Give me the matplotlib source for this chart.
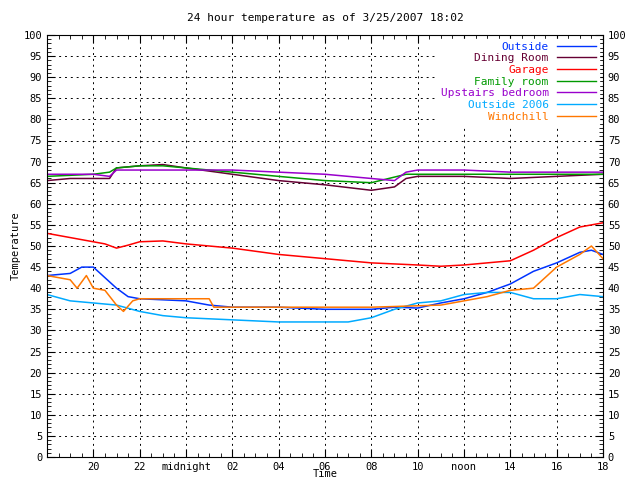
import matplotlib
matplotlib.use("Agg")
import matplotlib.pyplot as plt
from matplotlib.ticker import MultipleLocator

plt.rcParams['font.family'] = 'DejaVu Sans Mono'
plt.rcParams['font.size'] = 7.5

out_h = [0,1,1.5,2,3,3.5,4,6,7,8,10,12,14,15,16,17,18,19,20,21,22,23,23.5,24]
out_v = [43,43.5,45,45,40,38,37.5,37,36,35.5,35.5,35,35,35.5,35.3,36.5,37.5,39,41,44,46,48.5,49,48]
wc_h = [0,1,1.3,1.7,2,2.5,3,3.3,3.7,4,5,7,7.2,10,14,17,18,19,20,21,22,23,23.5,24]
wc_v = [43,42,40,43,40,39.5,36,34.5,37,37.5,37.5,37.5,35.5,35.5,35.5,36,37,38,39.5,40,45,48,50,47]
o6_h = [0,1,2,3,4,5,6,8,10,12,13,14,15,16,17,18,19,20,21,22,23,24]
o6_v = [38.5,37,36.5,36,34.5,33.5,33,32.5,32,32,32,33,35,36.5,37,38.5,39,39,37.5,37.5,38.5,38]
ga_h = [0,1,2,2.5,3,3.5,4,5,6,7,8,10,12,14,16,17,18,19,20,21,22,23,24]
ga_v = [53,52,51,50.5,49.5,50.2,51,51.2,50.5,50,49.5,48,47,46,45.5,45.2,45.5,46,46.5,49,52,54.5,55.5]
dr_h = [0,1,2,2.7,3,4,5,6,8,10,12,14,15,15.5,16,18,20,22,24]
dr_v = [65.5,66,66,66,68.5,69,69.3,68.5,67,65.5,64.5,63.2,64,66,66.5,66.5,66,66.5,67]
fr_h = [0,2,2.7,3,4,5,6,8,10,12,14,15.5,16,20,24]
fr_v = [66.5,67,67.5,68.5,69,69,68.5,67.5,66.5,65.5,65,67,67,67,67]
ub_h = [0,2,2.7,3,5,7,8,10,12,14,15,15.5,16,18,20,24]
ub_v = [67,67,66.5,68,68,68,68,67.5,67,66,65.5,67.5,68,68,67.5,67.5]

xticks = [2,4,6,8,10,12,14,16,18,20,22,24]
xlabels = ['20','22','midnight','02','04','06','08','10','noon','14','16','18']

fig = plt.figure(figsize=(6.4,4.8), dpi=100)
ax = fig.add_axes([47/640, 1-457/480, 556/640, 422/480])
series = [
    ('Outside', out_h, out_v, '#0033ff'),
    ('Dining Room', dr_h, dr_v, '#660033'),
    ('Garage', ga_h, ga_v, '#ff0000'),
    ('Family room', fr_h, fr_v, '#009900'),
    ('Upstairs bedroom', ub_h, ub_v, '#9900cc'),
    ('Outside 2006', o6_h, o6_v, '#00aaff'),
    ('Windchill', wc_h, wc_v, '#ff7700'),
]
for lab, h, v, c in series:
    ax.plot(h, v, color=c, lw=1.1, label=lab)
ax.set_xlim(0, 24)
ax.set_ylim(0, 100)
ax.set_xticks(xticks)
ax.set_xticklabels(xlabels)
ax.yaxis.set_major_locator(MultipleLocator(5))
ax.yaxis.set_minor_locator(MultipleLocator(1))
ax.xaxis.set_minor_locator(MultipleLocator(0.5))
ax.tick_params(which='both', direction='in', top=True, right=True, labelright=True, colors='black')
ax.tick_params(which='major', length=6)
ax.tick_params(which='minor', length=3)
ax.grid(True, which='major', color='black', linestyle=(0,(2,4)), lw=0.7)
ax.set_ylabel('Temperature', labelpad=2)
ax.set_xlabel('Time', labelpad=-2)
ax.set_title('24 hour temperature as of 3/25/2007 18:02', fontsize=8, pad=10)
leg = ax.legend(loc='upper right', frameon=True, markerfirst=False, labelcolor='linecolor',
                handlelength=3.5, labelspacing=0.15, borderaxespad=0.4, fontsize=8,
                facecolor='white', edgecolor='white', framealpha=1, fancybox=False, borderpad=0.2)
for l in leg.get_lines():
    l.set_linewidth(1.0)
fig.savefig('out.png')
